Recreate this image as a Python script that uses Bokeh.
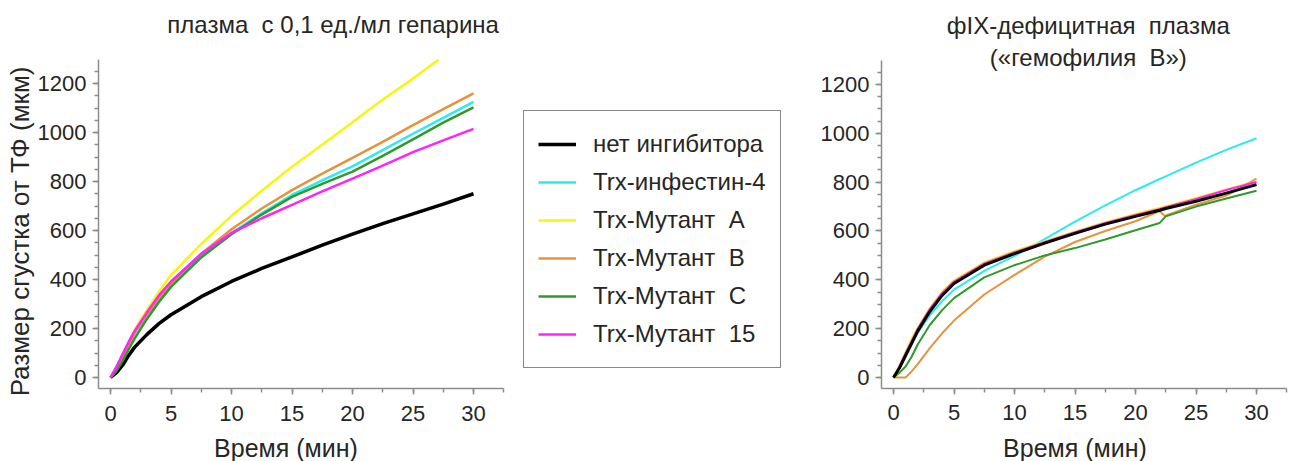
import math
from bokeh.plotting import figure
from bokeh.models import Range1d, SingleIntervalTicker, Label, Legend, LegendItem
from bokeh.layouts import row
from bokeh.embed import file_html
from bokeh.resources import INLINE

FONT = "Liberation Sans"
TEXT = "#262626"
AXIS = "#8c8c8c"
H = 461
NB = "\u00a0"  # keeps the wide gaps in the captions

# ---- series colours and names ----
names = ["нет ингибитора", "Trx-инфестин-4", "Trx-Мутант" + NB + " A", "Trx-Мутант" + NB + " B",
         "Trx-Мутант" + NB + " C", "Trx-Мутант" + NB + " 15"]
colors = ["#000000", "#28ecf2", "#f7f70c", "#e8923c", "#2e9a2e", "#ff22ff"]
widths_hep = [3.5, 2.5, 2.5, 2.5, 2.5, 2.5]
widths_fix = [3, 2, 2, 2, 2, 2]

# ---- plasma with 0.1 U/ml heparin (clot size, um, vs time, min) ----
t_hep = [0, 0.5, 1, 1.5, 2, 3, 4, 5, 7.5, 10, 12.5, 15, 17.5, 20, 22.5, 25, 27.5, 30]
hep_none = [0, 20, 50, 90, 124, 175, 220, 256, 330, 392, 445, 492, 540, 585, 628, 668, 708, 750]
hep_inf4 = [0, 35, 85, 135, 180, 250, 320, 378, 495, 590, 670, 745, 805, 862, 928, 995, 1060, 1125]
hep_mut_b = [0, 35, 85, 135, 183, 255, 325, 382, 505, 605, 690, 765, 832, 896, 962, 1030, 1095, 1160]
hep_mut_c = [0, 28, 68, 115, 160, 238, 308, 370, 490, 585, 665, 737, 790, 840, 905, 972, 1040, 1103]
hep_mut_15 = [0, 45, 95, 145, 190, 265, 335, 392, 505, 590, 650, 705, 760, 812, 865, 920, 968, 1015]
t_hep_a = [0, 0.5, 1, 1.5, 2, 3, 4, 5, 7.5, 10, 12.5, 15, 17.5, 20, 22.5, 25, 27.1]
hep_mut_a = [0, 40, 95, 145, 195, 275, 350, 418, 545, 660, 762, 860, 950, 1042, 1135, 1220, 1297]

# ---- factor IX deficient plasma ----
t_fix = [0, 0.5, 1, 1.5, 2, 3, 4, 5, 7.5, 10, 12.5, 15, 17.5, 20, 22, 22.5, 25, 27.5, 30]
fix_none = [0, 40, 90, 140, 190, 270, 335, 385, 460, 507, 550, 590, 628, 660, 685, 692, 722, 755, 790]
fix_inf4 = [0, 40, 90, 138, 182, 255, 312, 360, 437, 498, 567, 638, 705, 767, 813, 824, 880, 932, 980]
fix_mut_a = [0, 50, 105, 160, 205, 285, 350, 398, 472, 518, 558, 598, 636, 670, 695, 702, 735, 770, 805]
fix_mut_c = [0, 20, 45, 85, 135, 215, 275, 325, 410, 460, 500, 530, 565, 603, 633, 660, 700, 733, 765]
fix_mut_15 = [0, 45, 100, 150, 200, 280, 345, 393, 467, 513, 555, 595, 633, 666, 690, 697, 731, 768, 801]
t_fix_b = [0, 1, 1.5, 2, 3, 4, 5, 7.5, 10, 12.5, 15, 17.5, 20, 22, 22.4, 25, 27.5, 28.5, 30]
fix_mut_b = [0, 0, 25, 55, 120, 180, 233, 340, 420, 495, 555, 600, 640, 682, 662, 708, 745, 772, 815]

x_ticks_step = 5
y_ticks_step = 200
x_axis_span = (-1.0, 32.5)
y_axis_span = (-45, 1298)


def make_panel(width, x0_px, y0_px, px_per_min, px_per_um):
    """Panel whose plotting area fills the whole canvas; the axes sit at fixed
    data positions so titles and axis captions can live around them."""
    xr = Range1d(-x0_px / px_per_min, (width - x0_px) / px_per_min)
    yr = Range1d((y0_px - H) / px_per_um, y0_px / px_per_um)
    p = figure(width=width, height=H, output_backend="svg", toolbar_location=None,
               x_range=xr, y_range=yr, min_border=0)
    p.title.visible = False
    p.outline_line_color = None
    p.grid.visible = False
    p.background_fill_color = "white"
    p.border_fill_color = "white"
    p.xaxis.ticker = SingleIntervalTicker(interval=x_ticks_step, num_minor_ticks=2)
    p.yaxis.ticker = SingleIntervalTicker(interval=y_ticks_step, num_minor_ticks=4)
    p.xaxis.fixed_location = y_axis_span[0]
    p.yaxis.fixed_location = x_axis_span[0]
    p.xaxis.bounds = x_axis_span
    p.yaxis.bounds = y_axis_span
    for ax in (p.xaxis[0], p.yaxis[0]):
        ax.axis_line_color = AXIS
        ax.axis_line_width = 1.5
        ax.major_tick_line_color = AXIS
        ax.minor_tick_line_color = AXIS
        ax.major_tick_line_width = 1.5
        ax.minor_tick_line_width = 1.5
        ax.major_tick_in = 0
        ax.minor_tick_in = 0
        ax.major_tick_out = 6
        ax.minor_tick_out = 4
        ax.major_label_text_font = FONT
        ax.major_label_text_font_size = "22px"
        ax.major_label_text_color = TEXT
    p.yaxis.major_label_standoff = 6
    p.xaxis.major_label_standoff = 11
    return p


def add_text(p, x, y, text, size, angle=0.0):
    p.add_layout(Label(x=x, y=y, text=text, text_font=FONT, text_font_size=size,
                       text_color=TEXT, text_align="center", text_baseline="middle",
                       angle=angle))


# ---- left panel (with the shared legend beside it) ----
pl = make_panel(790, 110, 377, 12.1, 0.245)
hep_series = [(t_hep, hep_none), (t_hep, hep_inf4), (t_hep_a, hep_mut_a),
              (t_hep, hep_mut_b), (t_hep, hep_mut_c), (t_hep, hep_mut_15)]
renderers = []
for (tt, vv), c, w in zip(hep_series, colors, widths_hep):
    renderers.append(pl.line(tt, vv, line_color=c, line_width=w, line_join="round"))
add_text(pl, 18.4, 1440, "плазма" + NB + " с 0,1 ед./мл гепарина", "24px")
add_text(pl, 14.5, -286, "Время (мин)", "25px")
add_text(pl, -7.5, 596, "Размер сгустка от ТФ (мкм)", "26px", angle=math.pi / 2)

items = [LegendItem(label=n, renderers=[r]) for n, r in zip(names, renderers)]
legend = Legend(items=items, location=(523, 93), glyph_width=38, glyph_height=38,
                label_height=38, spacing=0, padding=14, label_standoff=17,
                label_text_font=FONT, label_text_font_size="24px", label_text_color=TEXT,
                border_line_color="#111111", border_line_width=1.5,
                background_fill_alpha=1.0)
pl.add_layout(legend, "center")

# ---- right panel ----
pr = make_panel(508, 103, 377, 12.1, 0.24417)
fix_series = [(t_fix, fix_inf4), (t_fix, fix_mut_a), (t_fix_b, fix_mut_b),
              (t_fix, fix_mut_c), (t_fix, fix_mut_15), (t_fix, fix_none)]
fix_colors = colors[1:] + colors[:1]
fix_widths = widths_fix[1:] + widths_fix[:1]
for (tt, vv), c, w in zip(fix_series, fix_colors, fix_widths):
    pr.line(tt, vv, line_color=c, line_width=w, line_join="round")
add_text(pr, 16.1, 1441, "фIX-дефицитная" + NB + " плазма", "24px")
add_text(pr, 16.1, 1310, "(«гемофилия" + NB + " В»)", "24px")
add_text(pr, 15.0, -287, "Время (мин)", "25px")

layout = row(pl, pr)
open("out.html", "w").write(file_html(layout, INLINE))
